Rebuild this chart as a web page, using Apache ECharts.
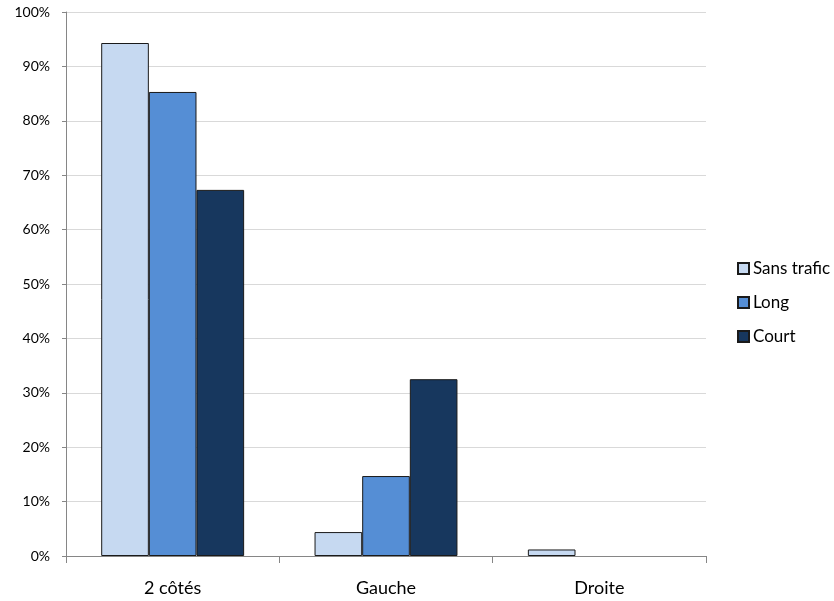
<!DOCTYPE html>
<html><head><meta charset="utf-8">
<script src="https://cdn.jsdelivr.net/npm/echarts@6/dist/echarts.min.js"></script>
<style>html,body{margin:0;padding:0;background:#fff}#c{width:834px;height:601px}</style>
</head><body><div id="c"></div>
<script>
const categories = ['2 côtés', 'Gauche', 'Droite'];
const seriesNames = ['Sans trafic', 'Long', 'Court'];
const sansTrafic = [94.3, 4.4, 1.2];
const long = [85.3, 14.7, 0];
const court = [67.3, 32.5, 0];
const colors = ['#C6D9F1', '#558ED5', '#17375E'];
const values = [sansTrafic, long, court];
const font = 'Lato, "Open Sans", sans-serif';

const chart = echarts.init(document.getElementById('c'));
chart.setOption({
  animation: false,
  textStyle: { fontFamily: font },
  grid: { left: 66, right: 128, top: 12, bottom: 45 },
  legend: {
    orient: 'vertical', left: 732, top: 255,
    itemWidth: 11, itemHeight: 11, itemGap: 17, icon: 'rect',
    textStyle: { fontFamily: font, fontSize: 17, color: '#000', padding: [0,0,0,-1] },
    data: seriesNames
  },
  xAxis: {
    type: 'category', data: categories,
    axisLine: { lineStyle: { color: '#868686', width: 1 } },
    axisTick: { show: true, length: 7, lineStyle: { color: '#868686' } },
    axisLabel: { color: '#000', fontSize: 18, margin: 23, fontFamily: font }
  },
  yAxis: {
    type: 'value', min: 0, max: 100, interval: 10,
    axisLine: { show: true, lineStyle: { color: '#868686' } },
    axisTick: { show: true, length: 4, lineStyle: { color: '#868686' } },
    splitLine: { lineStyle: { color: '#D9D9D9' } },
    axisLabel: { color: '#000', fontSize: 14, margin: 16, formatter: '{value}%', fontFamily: font }
  },
  series: seriesNames.map((n, i) => ({
    name: n, type: 'bar',
    data: values[i].map(v => v === 0 ? { value: v, itemStyle: { borderWidth: 0 } } : v),
    barGap: '0%', barCategoryGap: '33%',
    itemStyle: { color: colors[i], borderColor: '#1a1a1a', borderWidth: 1 }
  }))
});
</script></body></html>
